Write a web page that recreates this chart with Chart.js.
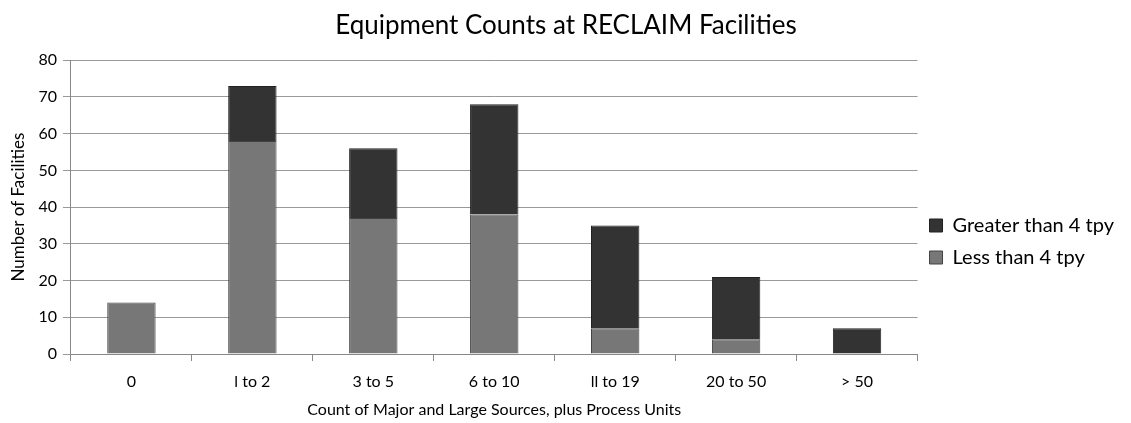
<!DOCTYPE html>
<html>
<head>
<meta charset="utf-8">
<script src="https://cdn.jsdelivr.net/npm/chart.js@4/dist/chart.umd.min.js"></script>
<style>
html,body{margin:0;padding:0;background:#fff;}
#wrap{width:1131px;height:423px;position:relative;}
</style>
</head>
<body>
<div id="wrap"><canvas id="c" width="1131" height="423"></canvas></div>
<script>
const categories = ["0", "l to 2", "3 to 5", "6 to 10", "ll to 19", "20 to 50", "> 50"];
const lessThan4 = [14, 58, 37, 38, 7, 4, 0];
const greaterThan4 = [0, 15, 19, 30, 28, 17, 7];
const yTicks = [0, 10, 20, 30, 40, 50, 60, 70, 80];
const FONT = "Lato, 'Open Sans', sans-serif";

new Chart(document.getElementById('c'), {
  type: 'bar',
  data: {
    labels: categories,
    datasets: [
      { label: 'Less than 4 tpy', data: lessThan4, backgroundColor: '#777777', borderColor: '#444444', borderWidth: 1, barPercentage: 0.4, categoryPercentage: 1.0 },
      { label: 'Greater than 4 tpy', data: greaterThan4, backgroundColor: '#333333', borderColor: '#222222', borderWidth: 1, barPercentage: 0.4, categoryPercentage: 1.0 }
    ]
  },
  options: {
    responsive: false,
    animation: false,
    layout: { padding: { left: 8, right: 7, top: 8, bottom: 4 } },
    plugins: {
      title: { display: true, text: 'Equipment Counts at RECLAIM Facilities', color: '#000', font: { family: FONT, size: 26, weight: 'normal' }, padding: { top: 2, bottom: 19 } },
      legend: {
        position: 'right',
        reverse: true,
        title: { display: true, text: ' ', font: { size: 40 }, padding: 4 },
        labels: { color: '#000', font: { family: FONT, size: 20 }, boxWidth: 13, boxHeight: 13, padding: 12 }
      },
      tooltip: { enabled: false }
    },
    scales: {
      x: {
        stacked: true,
        afterFit: (scale) => { scale.height = 65; },
        grid: { offset: true, drawOnChartArea: false, color: '#888', tickLength: 7 },
        border: { color: '#888' },
        ticks: { color: '#000', font: { family: FONT, size: 16 }, padding: 11 },
        title: { display: true, text: 'Count of Major and Large Sources, plus Process Units', color: '#000', font: { family: FONT, size: 16 }, padding: { top: 4, bottom: 0 } }
      },
      y: {
        stacked: true,
        min: 0, max: 80,
        afterBuildTicks: (axis) => { axis.ticks = yTicks.map(v => ({ value: v })); },
        grid: { color: '#999', tickLength: 8, lineWidth: 1 },
        border: { color: '#888' },
        ticks: { color: '#000', font: { family: FONT, size: 16 }, padding: 6 },
        title: { display: true, text: 'Number of Facilities', color: '#000', font: { family: FONT, size: 17 }, padding: { top: 0, bottom: 4 } }
      }
    }
  }
});
</script>
</body>
</html>
